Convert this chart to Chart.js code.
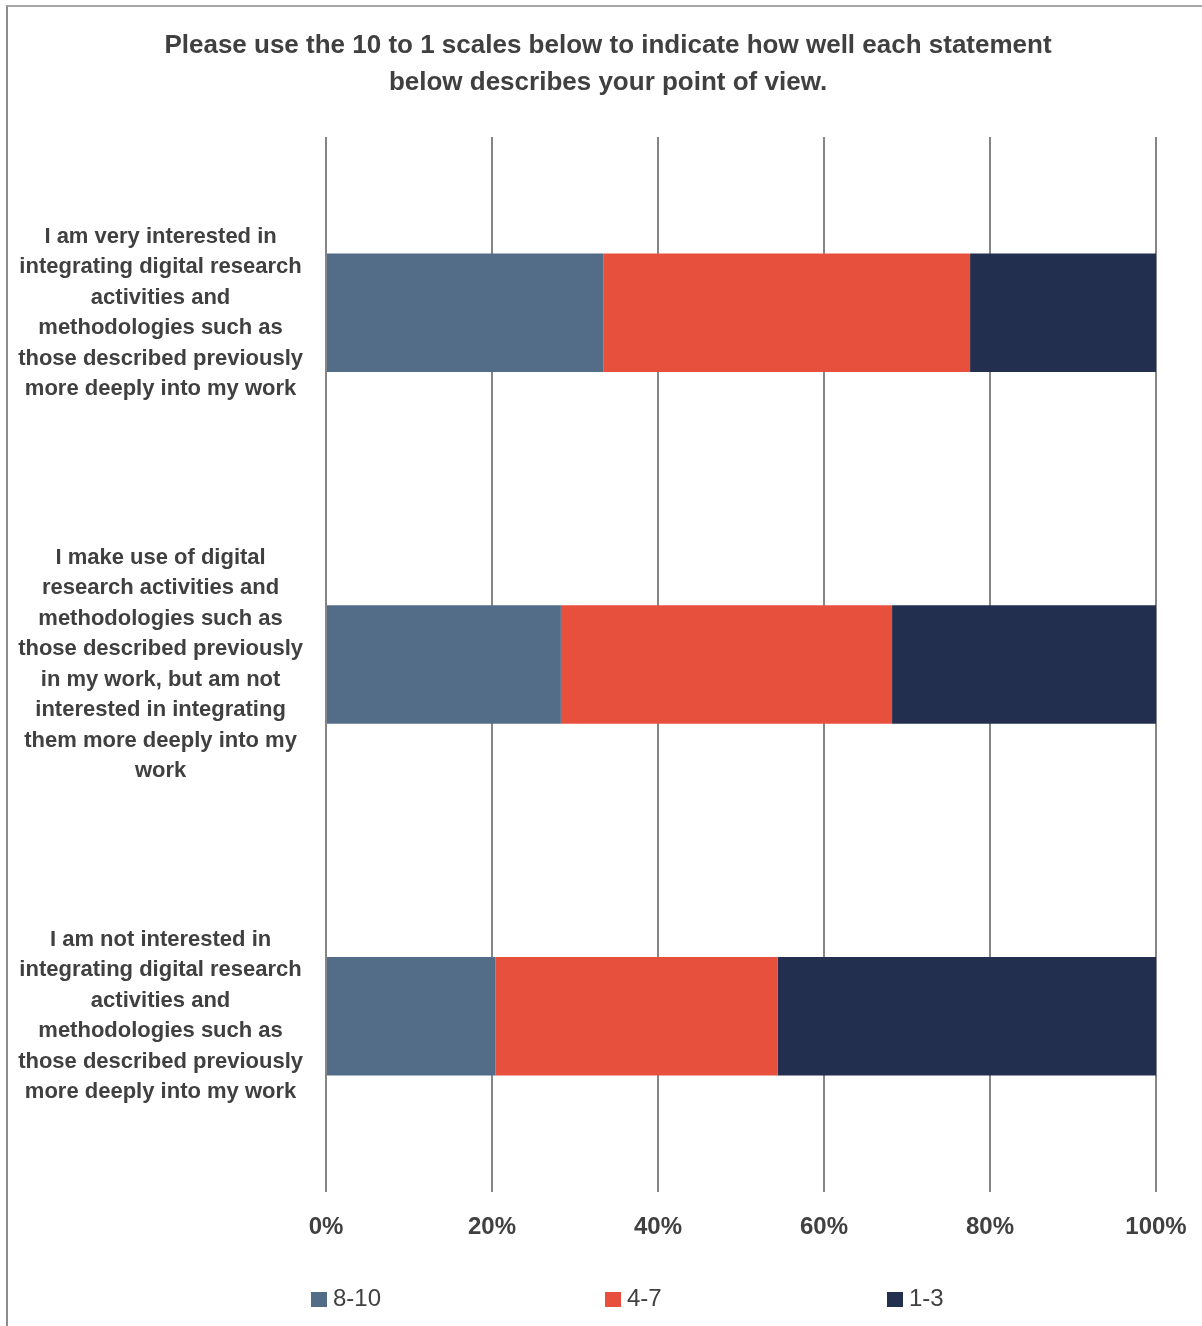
<!DOCTYPE html>
<html>
<head>
<meta charset="utf-8">
<script src="https://cdn.jsdelivr.net/npm/chart.js@4/dist/chart.umd.min.js"></script>
<style>
  html, body { margin: 0; padding: 0; background: #fff; overflow: hidden; }
  #frame {
    position: absolute; left: 6px; top: 5px;
    width: 1204px; height: 1330px;
    border-left: 2px solid #8c8c8c; border-top: 2px solid #a6a6a6;
    background: #fff;
  }
  #chart { display: block; }
</style>
</head>
<body>
<div id="frame"><canvas id="chart" width="1200" height="1319"></canvas></div>
<script>
// Statements (one array per wrapped label)
const statements = [
  ["I am very interested in", "integrating digital research", "activities and", "methodologies such as", "those described previously", "more deeply into my work"],
  ["I make use of digital", "research activities and", "methodologies such as", "those described previously", "in my work, but am not", "interested in integrating", "them more deeply into my", "work"],
  ["I am not interested in", "integrating digital research", "activities and", "methodologies such as", "those described previously", "more deeply into my work"]
];

// Share of responses per scale band (percent)
const band8to10 = [33.4, 28.3, 20.4];
const band4to7 = [44.2, 39.9, 34.0];
const band1to3 = [22.4, 31.8, 45.6];

const bandNames = ["8-10", "4-7", "1-3"];
const bandColors = ["#536D89", "#E8503E", "#232F4F"];

const titleLines = [
  "Please use the 10 to 1 scales below to indicate how well each statement",
  "below describes your point of view."
];
const percentTicks = [0, 20, 40, 60, 80, 100];

const FONT = "'Liberation Sans Narrow', 'Arial Narrow', 'Liberation Sans', Arial, sans-serif";
const TEXT = "#404040";

// Two-line heading centred across the whole canvas
const centredTitle = {
  id: 'centredTitle',
  afterDraw(chart, args, opts) {
    const ctx = chart.ctx;
    ctx.save();
    ctx.font = `bold ${opts.fontSize}px ${FONT}`;
    ctx.fillStyle = TEXT;
    ctx.textAlign = 'center';
    ctx.textBaseline = 'middle';
    opts.lines.forEach((line, i) => {
      ctx.fillText(line, chart.width / 2, opts.firstY + i * opts.lineGap);
    });
    ctx.restore();
  }
};

// Legend laid out in one row below the axis
const rowLegend = {
  id: 'rowLegend',
  afterDraw(chart, args, opts) {
    const ctx = chart.ctx;
    ctx.save();
    ctx.font = `${opts.fontSize}px ${FONT}`;
    ctx.textBaseline = 'middle';
    ctx.textAlign = 'left';
    chart.data.datasets.forEach((ds, i) => {
      const x = opts.xs[i];
      ctx.fillStyle = ds.backgroundColor;
      ctx.fillRect(x, opts.boxTop, opts.boxW, opts.boxH);
      ctx.fillStyle = TEXT;
      ctx.fillText(ds.label, x + opts.boxW + opts.gap, opts.textY);
    });
    ctx.restore();
  }
};

const datasets = [band8to10, band4to7, band1to3].map((vals, i) => ({
  label: bandNames[i],
  data: vals,
  backgroundColor: bandColors[i],
  borderWidth: 0,
  barPercentage: 1,
  categoryPercentage: 0.337
}));

new Chart(document.getElementById('chart'), {
  type: 'bar',
  data: { labels: statements, datasets },
  plugins: [centredTitle, rowLegend],
  options: {
    responsive: false,
    animation: false,
    indexAxis: 'y',
    layout: { padding: { left: 0, right: 52, top: 130, bottom: 0 } },
    scales: {
      x: {
        stacked: true,
        min: 0, max: 100,
        afterFit(scale) { scale.height = 134; },
        afterBuildTicks(scale) { scale.ticks = percentTicks.map(v => ({ value: v })); },
        ticks: {
          padding: 21,
          color: TEXT,
          font: { family: FONT, size: 24, weight: 'bold' },
          callback: v => v + '%'
        },
        grid: { color: '#858585', lineWidth: 2, drawTicks: false },
        border: { display: false }
      },
      y: {
        stacked: true,
        afterFit(scale) { scale.width = 318; },
        ticks: {
          crossAlign: 'center',
          padding: 23,
          color: TEXT,
          font: { family: FONT, size: 22, weight: 'bold', lineHeight: 30.5 / 22 }
        },
        grid: { display: false, drawTicks: false },
        border: { display: false }
      }
    },
    plugins: {
      legend: { display: false },
      tooltip: { enabled: false },
      title: { display: false },
      centredTitle: { lines: titleLines, fontSize: 26, firstY: 39, lineGap: 37 },
      rowLegend: {
        xs: [303, 597, 879],
        boxTop: 1285, boxW: 16, boxH: 15, gap: 6,
        textY: 1292, fontSize: 24
      }
    }
  }
});
</script>
</body>
</html>
